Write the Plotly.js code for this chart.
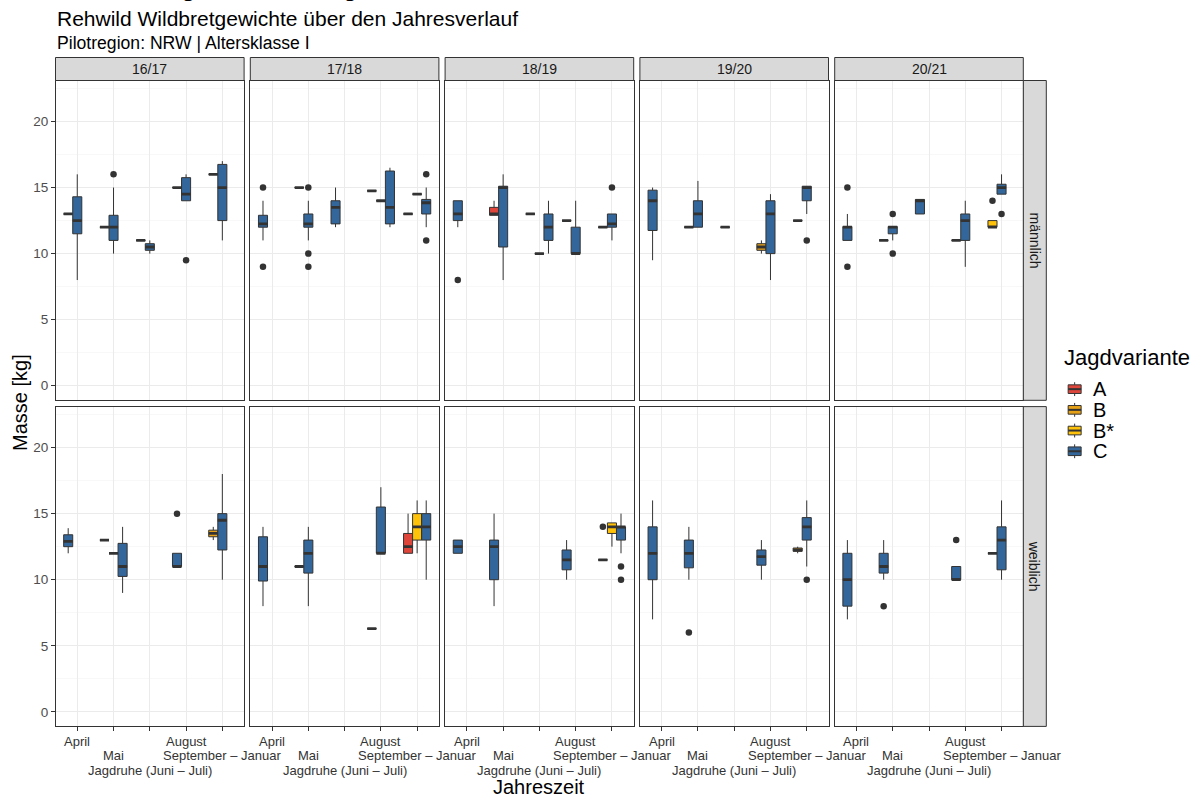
<!DOCTYPE html>
<html>
<head>
<meta charset="utf-8">
<script src="https://cdn.plot.ly/plotly-3.0.1.min.js"></script>
<style>
  html, body { margin: 0; padding: 0; background: #fff; }
  #chart { width: 1197px; height: 794px; }
</style>
</head>
<body>
<div id="chart"></div>
<script>
// Facets and categories
const seasons = ['16/17', '17/18', '18/19', '19/20', '20/21'];
const sexKeys = ['m', 'w'];
const sexLabels = ['männlich', 'weiblich'];
const periodKeys = ['Apr', 'Mai', 'Ruhe', 'Aug', 'SepJan'];
const periodLabels = ['April', 'Mai', 'Jagdruhe (Juni – Juli)', 'August', 'September – Januar'];
const variants = ['A', 'B', 'B*', 'C'];
const variantColors = ['#DF463B', '#E6A117', '#FFC20A', '#33669A'];

// Box summaries per hunting variant:
// [season, sex, period, lower whisker, q1, median, q3, upper whisker]
const boxesA = [
  ['17/18', 'm', 'Aug', 14.75, 14.75, 14.75, 14.75, 14.75],
  ['17/18', 'm', 'SepJan', 13, 13, 13, 13, 13],
  ['18/19', 'm', 'Mai', 12.9, 12.9, 13, 13.5, 14],
  ['18/19', 'm', 'Ruhe', 13, 13, 13, 13, 13],
  ['16/17', 'w', 'Mai', 13, 13, 13, 13, 13],
  ['17/18', 'w', 'SepJan', 12, 12, 12.5, 13.5, 15]
];
const boxesB = [
  ['16/17', 'm', 'Apr', 13, 13, 13, 13, 13],
  ['16/17', 'm', 'Mai', 12, 12, 12, 12, 12],
  ['16/17', 'm', 'Ruhe', 11, 11, 11, 11, 11],
  ['16/17', 'm', 'Aug', 15, 15, 15, 15, 15],
  ['16/17', 'm', 'SepJan', 16, 16, 16, 16, 16],
  ['17/18', 'm', 'Mai', 15, 15, 15, 15, 15],
  ['17/18', 'm', 'Aug', 14, 14, 14, 14, 14],
  ['17/18', 'm', 'SepJan', 14.5, 14.5, 14.5, 14.5, 14.5],
  ['18/19', 'm', 'Ruhe', 10, 10, 10, 10, 10],
  ['18/19', 'm', 'Aug', 12.5, 12.5, 12.5, 12.5, 12.5],
  ['18/19', 'm', 'SepJan', 12, 12, 12, 12, 12],
  ['19/20', 'm', 'Mai', 12, 12, 12, 12, 12],
  ['19/20', 'm', 'Ruhe', 12, 12, 12, 12, 12],
  ['19/20', 'm', 'Aug', 10, 10.25, 10.5, 10.75, 11],
  ['19/20', 'm', 'SepJan', 12.5, 12.5, 12.5, 12.5, 12.5],
  ['20/21', 'm', 'Mai', 11, 11, 11, 11, 11],
  ['20/21', 'm', 'Aug', 11, 11, 11, 11, 11],
  ['16/17', 'w', 'Mai', 12, 12, 12, 12, 12],
  ['16/17', 'w', 'SepJan', 13, 13.25, 13.5, 13.75, 14],
  ['17/18', 'w', 'Mai', 11, 11, 11, 11, 11],
  ['17/18', 'w', 'Aug', 6.3, 6.3, 6.3, 6.3, 6.3],
  ['18/19', 'w', 'SepJan', 11.5, 11.5, 11.5, 11.5, 11.5],
  ['19/20', 'w', 'SepJan', 12, 12.15, 12.25, 12.4, 12.5],
  ['20/21', 'w', 'SepJan', 12, 12, 12, 12, 12]
];
const boxesBstar = [
  ['20/21', 'm', 'SepJan', 12, 12, 12, 12.5, 12.5],
  ['17/18', 'w', 'SepJan', 12, 13, 14, 15, 16],
  ['18/19', 'w', 'SepJan', 12.5, 13.5, 14, 14.3, 14.3]
];
const boxesC = [
  ['16/17', 'm', 'Apr', 8, 11.5, 12.5, 14.3, 16],
  ['16/17', 'm', 'Mai', 10, 11, 12, 12.9, 15],
  ['16/17', 'm', 'Ruhe', 10, 10.25, 10.5, 10.75, 11],
  ['16/17', 'm', 'Aug', 14, 14, 14.5, 15.75, 16],
  ['16/17', 'm', 'SepJan', 11, 12.5, 15, 16.75, 17],
  ['17/18', 'm', 'Apr', 11, 12, 12.25, 12.9, 14],
  ['17/18', 'm', 'Mai', 11, 12, 12.25, 13, 14],
  ['17/18', 'm', 'Ruhe', 12, 12.25, 13.5, 14, 15],
  ['17/18', 'm', 'Aug', 12, 12.25, 13.5, 16.25, 16.5],
  ['17/18', 'm', 'SepJan', 12, 13, 13.85, 14.1, 15],
  ['18/19', 'm', 'Apr', 12, 12.5, 13, 14, 14],
  ['18/19', 'm', 'Mai', 8, 10.5, 15, 15.1, 16],
  ['18/19', 'm', 'Ruhe', 10, 11, 12, 13, 14],
  ['18/19', 'm', 'Aug', 10, 10, 10, 12, 14],
  ['18/19', 'm', 'SepJan', 11, 12, 12.25, 13, 13],
  ['19/20', 'm', 'Apr', 9.5, 11.75, 14, 14.8, 15],
  ['19/20', 'm', 'Mai', 12, 12, 13, 14, 15.5],
  ['19/20', 'm', 'Aug', 8, 10, 13, 14, 14.5],
  ['19/20', 'm', 'SepJan', 13, 14, 15, 15.1, 15.1],
  ['20/21', 'm', 'Apr', 11, 11, 12, 12.05, 13],
  ['20/21', 'm', 'Mai', 11, 11.5, 12, 12.05, 12.05],
  ['20/21', 'm', 'Ruhe', 13, 13, 14, 14.1, 14.1],
  ['20/21', 'm', 'Aug', 9, 11, 12.5, 13, 14],
  ['20/21', 'm', 'SepJan', 14.5, 14.5, 15, 15.25, 16],
  ['16/17', 'w', 'Apr', 12, 12.5, 12.9, 13.4, 13.9],
  ['16/17', 'w', 'Mai', 9, 10.25, 11, 12.75, 14],
  ['16/17', 'w', 'Aug', 11, 11, 11, 12, 12],
  ['16/17', 'w', 'SepJan', 10, 12.25, 14.5, 15, 18],
  ['17/18', 'w', 'Apr', 8, 9.9, 11, 13.25, 14],
  ['17/18', 'w', 'Mai', 8, 10.5, 12, 13, 14],
  ['17/18', 'w', 'Aug', 12, 12, 12, 15.5, 17],
  ['17/18', 'w', 'SepJan', 10, 13, 14, 15, 16],
  ['18/19', 'w', 'Apr', 12, 12, 12.5, 13, 13],
  ['18/19', 'w', 'Mai', 8, 10, 12.5, 13, 15],
  ['18/19', 'w', 'Aug', 10, 10.75, 11.5, 12.25, 13],
  ['18/19', 'w', 'SepJan', 12, 13, 14, 14, 15],
  ['19/20', 'w', 'Apr', 7, 10, 12, 14, 16],
  ['19/20', 'w', 'Mai', 10, 10.9, 12, 13, 14],
  ['19/20', 'w', 'Aug', 10, 11.1, 11.75, 12.25, 13],
  ['19/20', 'w', 'SepJan', 11, 13, 14, 14.7, 16],
  ['20/21', 'w', 'Apr', 7, 8, 10, 12, 13],
  ['20/21', 'w', 'Mai', 10, 10.5, 11, 12, 13],
  ['20/21', 'w', 'Aug', 10, 10, 10, 11, 11],
  ['20/21', 'w', 'SepJan', 10, 10.75, 13, 14, 16]
];
// Single animals beyond the whiskers: [season, sex, period, variant, mass]
const outliers = [
  ['16/17', 'm', 'Mai', 'C', 16],
  ['16/17', 'm', 'Aug', 'C', 9.5],
  ['17/18', 'm', 'Apr', 'C', 15], ['17/18', 'm', 'Apr', 'C', 9],
  ['17/18', 'm', 'Mai', 'C', 15], ['17/18', 'm', 'Mai', 'C', 10], ['17/18', 'm', 'Mai', 'C', 9],
  ['17/18', 'm', 'SepJan', 'C', 16], ['17/18', 'm', 'SepJan', 'C', 11],
  ['18/19', 'm', 'Apr', 'C', 8],
  ['18/19', 'm', 'SepJan', 'C', 15],
  ['19/20', 'm', 'SepJan', 'C', 11],
  ['20/21', 'm', 'Apr', 'C', 15], ['20/21', 'm', 'Apr', 'C', 9],
  ['20/21', 'm', 'Mai', 'C', 13], ['20/21', 'm', 'Mai', 'C', 10],
  ['20/21', 'm', 'SepJan', 'B*', 14], ['20/21', 'm', 'SepJan', 'C', 13],
  ['16/17', 'w', 'Aug', 'C', 15],
  ['18/19', 'w', 'SepJan', 'B', 14], ['18/19', 'w', 'SepJan', 'C', 11], ['18/19', 'w', 'SepJan', 'C', 10],
  ['19/20', 'w', 'Mai', 'C', 6],
  ['19/20', 'w', 'SepJan', 'C', 10],
  ['20/21', 'w', 'Mai', 'C', 8],
  ['20/21', 'w', 'Aug', 'C', 13]
];

// ---------- page geometry (pixels) ----------
const W = 1197, H = 794;
const panelX0 = 55.5, panelStep = 194.8, panelW = 188.6;
const rowY0 = [80.5, 406.6], panelH = 319.8;
const stripTop = 57.5, stripRightW = 23;
const tickRowY = [741, 755.5, 770];
const yRange = [-1.1, 23.1], xRange = [0.4, 5.6];
const inkDark = '#333333';
const px = v => v / W;
const py = v => 1 - v / H;

// ---------- dodging: present variants share the slots at each period ----------
const groupRows = [boxesA, boxesB, boxesBstar, boxesC];
const present = {};
groupRows.forEach((rows, v) => rows.forEach(r => {
  const k = r[0] + '|' + r[1] + '|' + r[2];
  (present[k] = present[k] || []).push(v);
}));
Object.values(present).forEach(a => a.sort((p, q) => p - q));
const nSlots = Math.max(...Object.values(present).map(a => a.length));
const dodgeWidth = 0.75;
const boxW = dodgeWidth / nSlots;
function xPos(season, sex, period, v) {
  const slot = present[season + '|' + sex + '|' + period].indexOf(v);
  return periodKeys.indexOf(period) + 1 - dodgeWidth / 2 + boxW * (slot + 0.5);
}
const axisNo = (si, ri) => ri * seasons.length + si + 1;
const axId = (c, n) => n === 1 ? c : c + n;

const data = [];
sexKeys.forEach((sex, ri) => {
  seasons.forEach((season, si) => {
    const n = axisNo(si, ri);
    const xa = axId('x', n), ya = axId('y', n);
    const medX = [], medY = [];
    groupRows.forEach((rows, v) => {
      const sel = rows.filter(r => r[0] === season && r[1] === sex);
      if (!sel.length) return;
      const xs = sel.map(r => xPos(season, sex, r[2], v));
      data.push({
        type: 'box', xaxis: xa, yaxis: ya, orientation: 'v',
        x: xs,
        lowerfence: sel.map(r => r[3]), q1: sel.map(r => r[4]),
        median: sel.map(r => r[5]), q3: sel.map(r => r[6]),
        upperfence: sel.map(r => r[7]),
        width: boxW, whiskerwidth: 0, boxpoints: false,
        fillcolor: variantColors[v], line: { color: inkDark, width: 1 },
        showlegend: false, hoverinfo: 'skip'
      });
      sel.forEach((r, i) => {
        medX.push(xs[i] - boxW / 2, xs[i] + boxW / 2, null);
        medY.push(r[5], r[5], null);
      });
    });
    // emphasised median bars
    data.push({
      type: 'scatter', mode: 'lines', xaxis: xa, yaxis: ya,
      x: medX, y: medY, line: { color: inkDark, width: 2.8 },
      showlegend: false, hoverinfo: 'skip'
    });
    const outs = outliers.filter(o => o[0] === season && o[1] === sex);
    data.push({
      type: 'scatter', mode: 'markers', xaxis: xa, yaxis: ya,
      x: outs.map(o => xPos(season, sex, o[2], variants.indexOf(o[3]))),
      y: outs.map(o => o[4]),
      marker: { color: inkDark, size: 6.5 },
      showlegend: false, hoverinfo: 'skip'
    });
  });
});

const layout = {
  width: W, height: H, autosize: false,
  margin: { l: 0, r: 0, t: 0, b: 0 },
  paper_bgcolor: '#ffffff', plot_bgcolor: '#ffffff',
  font: { family: 'Liberation Sans, Arial, sans-serif', color: '#1A1A1A' },
  boxmode: 'overlay', showlegend: false,
  shapes: [], annotations: []
};

sexKeys.forEach((sex, ri) => {
  seasons.forEach((season, si) => {
    const n = axisNo(si, ri);
    const x0 = panelX0 + si * panelStep, y0 = rowY0[ri];
    const bottomRow = ri === sexKeys.length - 1, leftCol = si === 0;
    layout['xaxis' + (n === 1 ? '' : n)] = {
      domain: [px(x0), px(x0 + panelW)], anchor: axId('y', n),
      range: xRange, tickvals: [1, 2, 3, 4, 5], showticklabels: false,
      ticks: bottomRow ? 'outside' : '', ticklen: 3.5, tickwidth: 1, tickcolor: inkDark,
      showgrid: true, gridcolor: '#EBEBEB', gridwidth: 1, zeroline: false,
      showline: true, mirror: true, linecolor: inkDark, linewidth: 1, fixedrange: true
    };
    layout['yaxis' + (n === 1 ? '' : n)] = {
      domain: [py(y0 + panelH), py(y0)], anchor: axId('x', n),
      range: yRange, tickvals: [0, 5, 10, 15, 20],
      showticklabels: leftCol, ticks: leftCol ? 'outside' : '', ticklen: 3.5, tickwidth: 1, tickcolor: inkDark,
      tickfont: { size: 13.5, color: '#4D4D4D' },
      showgrid: true, gridcolor: '#EBEBEB', gridwidth: 1, zeroline: false,
      minor: { tickvals: [2.5, 7.5, 12.5, 17.5, 22.5], showgrid: true, gridcolor: '#F3F3F3', gridwidth: 0.6, ticks: '' },
      showline: true, mirror: true, linecolor: inkDark, linewidth: 1, fixedrange: true
    };
    // period labels below the bottom row, staggered over three lines
    if (bottomRow) {
      periodLabels.forEach((lab, i) => {
        layout.annotations.push({
          xref: axId('x', n), yref: 'paper', x: i + 1, y: py(tickRowY[i % 3]),
          xanchor: 'center', yanchor: 'middle', text: lab, showarrow: false,
          font: { size: 13, color: '#333333' }
        });
      });
    }
  });
});

// season strips on top
seasons.forEach((season, si) => {
  const x0 = panelX0 + si * panelStep;
  layout.shapes.push({
    type: 'rect', xref: 'paper', yref: 'paper', layer: 'above',
    x0: px(x0), x1: px(x0 + panelW), y0: py(rowY0[0]), y1: py(stripTop),
    fillcolor: '#D9D9D9', line: { color: inkDark, width: 1 }
  });
  layout.annotations.push({
    xref: 'paper', yref: 'paper', x: px(x0 + panelW / 2), y: py((stripTop + rowY0[0]) / 2),
    text: season, showarrow: false, xanchor: 'center', yanchor: 'middle',
    font: { size: 14, color: '#1A1A1A' }
  });
});
// sex strips on the right
const stripX0 = panelX0 + 4 * panelStep + panelW;
sexLabels.forEach((lab, ri) => {
  layout.shapes.push({
    type: 'rect', xref: 'paper', yref: 'paper', layer: 'above',
    x0: px(stripX0), x1: px(stripX0 + stripRightW), y0: py(rowY0[ri] + panelH), y1: py(rowY0[ri]),
    fillcolor: '#D9D9D9', line: { color: inkDark, width: 1 }
  });
  layout.annotations.push({
    xref: 'paper', yref: 'paper', x: px(stripX0 + stripRightW / 2), y: py(rowY0[ri] + panelH / 2),
    text: lab, showarrow: false, textangle: 90, xanchor: 'center', yanchor: 'middle',
    font: { size: 14, color: '#1A1A1A' }
  });
});

// titles (the main title sits at the very top edge of the page)
layout.annotations.push(
  { xref: 'paper', yref: 'paper', x: px(55), y: py(4), xanchor: 'left', yanchor: 'bottom',
    text: 'Entwicklung der Wildbretgewichte', showarrow: false, font: { size: 26, color: '#000' } },
  { xref: 'paper', yref: 'paper', x: px(55), y: py(18.5), xanchor: 'left', yanchor: 'middle',
    text: 'Rehwild Wildbretgewichte über den Jahresverlauf', showarrow: false, font: { size: 21, color: '#000' } },
  { xref: 'paper', yref: 'paper', x: px(55), y: py(43.5), xanchor: 'left', yanchor: 'middle',
    text: 'Pilotregion: NRW | Altersklasse I', showarrow: false, font: { size: 17.6, color: '#000' } },
  { xref: 'paper', yref: 'paper', x: px(539.4), y: py(787), xanchor: 'center', yanchor: 'middle',
    text: 'Jahreszeit', showarrow: false, font: { size: 20, color: '#000' } },
  { xref: 'paper', yref: 'paper', x: px(20), y: py(403), xanchor: 'center', yanchor: 'middle',
    text: 'Masse [kg]', textangle: -90, showarrow: false, font: { size: 20, color: '#000' } },
  { xref: 'paper', yref: 'paper', x: px(1062), y: py(357), xanchor: 'left', yanchor: 'middle',
    text: 'Jagdvariante', showarrow: false, font: { size: 22, color: '#000' } }
);

// legend keys drawn as small boxplot glyphs
const keyX0 = 1066, keyS = 17.3, keyY0 = 380.5;
variants.forEach((v, i) => {
  const top = keyY0 + i * 20.7, xc = keyX0 + keyS / 2;
  layout.shapes.push(
    { type: 'line', xref: 'paper', yref: 'paper', x0: px(xc), x1: px(xc), y0: py(top + 0.1 * keyS), y1: py(top + 0.25 * keyS), line: { color: inkDark, width: 1 } },
    { type: 'line', xref: 'paper', yref: 'paper', x0: px(xc), x1: px(xc), y0: py(top + 0.75 * keyS), y1: py(top + 0.9 * keyS), line: { color: inkDark, width: 1 } },
    { type: 'rect', xref: 'paper', yref: 'paper', x0: px(keyX0 + 0.125 * keyS), x1: px(keyX0 + 0.875 * keyS), y0: py(top + 0.75 * keyS), y1: py(top + 0.25 * keyS), fillcolor: variantColors[i], line: { color: inkDark, width: 1 } },
    { type: 'line', xref: 'paper', yref: 'paper', x0: px(keyX0 + 0.125 * keyS), x1: px(keyX0 + 0.875 * keyS), y0: py(top + 0.5 * keyS), y1: py(top + 0.5 * keyS), line: { color: inkDark, width: 2 } }
  );
  layout.annotations.push({
    xref: 'paper', yref: 'paper', x: px(keyX0 + keyS + 8), y: py(top + keyS / 2), xanchor: 'left', yanchor: 'middle',
    text: v, showarrow: false, font: { size: 20, color: '#000' }
  });
});

Plotly.newPlot('chart', data, layout, { staticPlot: true, displayModeBar: false });
</script>
</body>
</html>
